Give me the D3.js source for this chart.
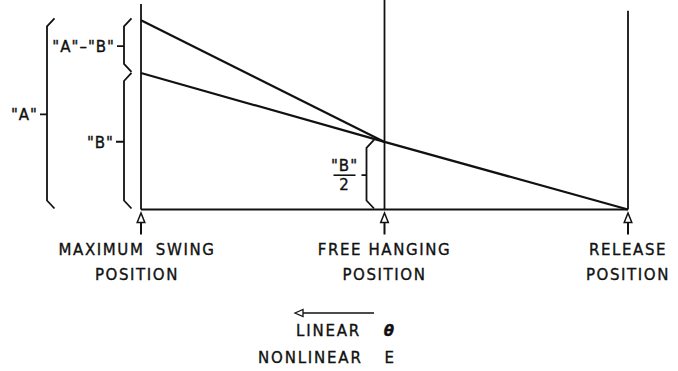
<!DOCTYPE html>
<html><head><meta charset="utf-8">
<script src="https://cdn.jsdelivr.net/npm/d3@7"></script>
<style>
html,body{margin:0;padding:0;background:#fff;}
svg{display:block;}
text{font-family:"DejaVu Sans",sans-serif;fill:#111;stroke:#111;stroke-width:0.35px;}
</style></head>
<body>
<svg id="c" width="678" height="371"></svg>
<script>
// ---- data ----
const positions = [0, 1, 2];                       // max swing, free hanging, release
const positionLabels = [["MAXIMUM SWING","POSITION"],["FREE HANGING","POSITION"],["RELEASE","POSITION"]];
const guideTops = [3.04, 3.1, 2.94];               // tops of the vertical guide lines
const lineA = [[0, 2.8], [1, 1.0]];                // upper (nonlinear E) line
const lineB = [[0, 2.02], [1, 1.0], [2, 0]];       // lower (linear) line
const valA = 2.8, valB = 2.02, valHalfB = 1.0;
const legendWords = [["LINEAR", "\u03B8"], ["NONLINEAR", "E"]];

// ---- scales ----
const x = d3.scaleLinear().domain([0, 2]).range([141, 628]);
const y = d3.scaleLinear().domain([0, 3.1]).range([209.5, 0]);

const svg = d3.select("#c");
const ink = "#111";

// baseline
svg.append("line").attr("x1", x(0)).attr("x2", x(2)).attr("y1", y(0)).attr("y2", y(0))
  .attr("stroke", ink).attr("stroke-width", 1.8);

// vertical guides
svg.selectAll(".guide").data(positions).join("line")
  .attr("x1", d => x(d)).attr("x2", d => x(d))
  .attr("y1", (d, i) => y(guideTops[i])).attr("y2", y(0))
  .attr("stroke", ink).attr("stroke-width", 1.8);

const line = d3.line().x(d => x(d[0])).y(d => y(d[1]));
[lineA, lineB].forEach(l => svg.append("path").attr("d", line(l))
  .attr("fill", "none").attr("stroke", ink).attr("stroke-width", 2.2));

// braces
function brace(xs, yTop, yBot, tip) {
  const xt = xs + 7.5, c = 8;
  const p = d3.path();
  p.moveTo(xt, yTop - 2);
  p.lineTo(xs, yTop + c - 2);
  p.lineTo(xs, yBot - c);
  p.lineTo(xt, yBot);
  const ym = (yTop + yBot) / 2;
  p.moveTo(xs, ym);
  p.lineTo(xs - tip, ym);
  svg.append("path").attr("d", p.toString()).attr("fill", "none")
    .attr("stroke", ink).attr("stroke-width", 1.8);
  return ym;
}
const axX = x(0);
const mA = brace(axX - 94, y(valA), y(0) - 1, 7);
const mAB = brace(axX - 17, y(valA), y(valB) - 1, 7);
const mB = brace(axX - 17, y(valB) + 2, y(0) - 1, 8);
const mHB = brace(x(1) - 18, y(valHalfB), y(0) - 1, 5);

const fs = 15;
function label(tx, ty, s, anchor) {
  svg.append("text").attr("x", tx).attr("y", ty).attr("text-anchor", anchor || "end")
    .attr("dominant-baseline", "central").attr("font-size", fs)
    .attr("letter-spacing", 1).text(s);
}
label(axX - 103, mA + 1, "\"A\"");
label(axX - 26, mAB + 1, "\"A\"\u2013\"B\"");
label(axX - 27, mB + 1, "\"B\"");
// "B"/2 fraction
const fx = x(1) - 40;
label(fx, mHB - 9, "\"B\"", "middle");
svg.append("line").attr("x1", fx - 11).attr("x2", fx + 11).attr("y1", mHB).attr("y2", mHB)
  .attr("stroke", ink).attr("stroke-width", 1.6);
label(fx, mHB + 10, "2", "middle");

// position arrows
const arrowG = svg.selectAll(".arr").data(positions).join("g")
  .attr("transform", d => `translate(${x(d)},${y(0)})`);
arrowG.append("path").attr("d", "M0,3.5 L-3.8,13 L3.8,13 Z")
  .attr("fill", "#fff").attr("stroke", ink).attr("stroke-width", 1.5);
arrowG.append("line").attr("x1", 0).attr("x2", 0).attr("y1", 13).attr("y2", 25)
  .attr("stroke", ink).attr("stroke-width", 2);

// position labels
const labelX = [x(0) - 4, x(1), x(2)];
const wordSp = [5, 0, 0];
positions.forEach((d, i) => {
  positionLabels[i].forEach((s, j) => {
    svg.append("text").attr("x", labelX[i]).attr("y", 250 + j * 25)
      .attr("text-anchor", "middle").attr("dominant-baseline", "central")
      .attr("font-size", fs).attr("letter-spacing", 1.6).attr("word-spacing", j === 0 ? wordSp[i] : 0).text(s);
  });
});

// legend arrow
svg.append("line").attr("x1", 300).attr("x2", 374).attr("y1", 313).attr("y2", 313)
  .attr("stroke", ink).attr("stroke-width", 1.5);
svg.append("path").attr("d", "M295,313 L303,309.5 L303,316.5 Z")
  .attr("fill", "#fff").attr("stroke", ink).attr("stroke-width", 1.3);
const legY = [331, 358], legX = [296, 258];
legendWords.forEach((w, i) => {
  svg.append("text").attr("x", legX[i]).attr("y", legY[i]).attr("dominant-baseline", "central")
    .attr("font-size", fs).attr("letter-spacing", 1.8).text(w[0]);
  svg.append("text").attr("x", 394).attr("y", legY[i]).attr("dominant-baseline", "central")
    .attr("text-anchor", "end").attr("font-size", fs)
    .attr("font-style", i === 0 ? "italic" : "normal").attr("font-weight", i === 0 ? "bold" : "normal")
    .text(w[1]);
});
</script>
</body></html>
